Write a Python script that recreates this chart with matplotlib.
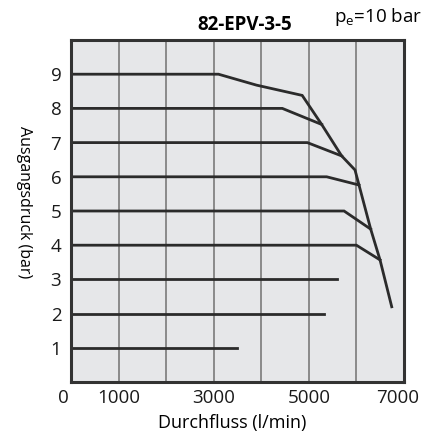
import numpy as np
import matplotlib.pyplot as plt
import matplotlib.transforms as mtransforms

plt.rcParams['font.family'] = ['Open Sans', 'DejaVu Sans']

# Kennlinien: Durchfluss (l/min) und Ausgangsdruck (bar)
flow_1 = [0, 3480]
p_1 = [1, 1]
flow_2 = [0, 5320]
p_2 = [2, 2]
flow_3 = [0, 5600]
p_3 = [3, 3]
flow_4 = [0, 6000, 6496]
p_4 = [4, 4, 3.57]
flow_5 = [0, 5740, 6300]
p_5 = [5, 5, 4.47]
flow_6 = [0, 5375, 6054]
p_6 = [6, 6, 5.76]
flow_7 = [0, 4968, 5690]
p_7 = [7, 7, 6.61]
flow_8 = [0, 4442, 5270]
p_8 = [8, 8, 7.53]
flow_9 = [0, 3100, 3900, 4860, 5270, 5690, 5970, 6054, 6300, 6496, 6742]
p_9 = [9, 9, 8.68, 8.38, 7.53, 6.61, 6.2, 5.76, 4.47, 3.57, 2.2]

curves = [(flow_1, p_1), (flow_2, p_2), (flow_3, p_3), (flow_4, p_4), (flow_5, p_5),
          (flow_6, p_6), (flow_7, p_7), (flow_8, p_8), (flow_9, p_9)]

xticks = [0, 1000, 3000, 5000, 7000]
yticks = [1, 2, 3, 4, 5, 6, 7, 8, 9]
xgrid = [1000, 2000, 3000, 4000, 5000, 6000]

fig = plt.figure(figsize=(4.33, 4.32), dpi=100)
ax = fig.add_axes([71/433, 1-382/432, (404-71)/433, (382-40)/432])
ax.set_facecolor('#e6e7e9')

for gx in xgrid:
    ax.axvline(gx, color='#8a8a8a', linewidth=1.4, zorder=1)

for fx, py in curves:
    ax.plot(fx, py, color='#2b2b2b', linewidth=2.0, solid_joinstyle='miter', zorder=3)

ax.set_xlim(0, 7000)
ax.set_ylim(0, 10)
ax.set_xticks(xticks)
ax.set_yticks(yticks)
ax.tick_params(length=0, labelsize=13.5, colors='#1a1a1a')
ax.tick_params(axis='x', pad=5)
ax.tick_params(axis='y', pad=7)
for s in ax.spines.values():
    s.set_linewidth(2.2)
    s.set_color('#333333')
    s.set_zorder(4)

# kleine Verschiebung der äußeren x-Beschriftungen wie im Original
fig.canvas.draw()
xl = ax.get_xticklabels()
xl[0].set_transform(xl[0].get_transform() + mtransforms.ScaledTranslation(-8/100, 0, fig.dpi_scale_trans))
xl[-1].set_transform(xl[-1].get_transform() + mtransforms.ScaledTranslation(-6/100, 0, fig.dpi_scale_trans))

ax.set_xlabel('Durchfluss (l/min)', fontsize=13, labelpad=3)
ax.set_ylabel('Ausgangsdruck (bar)', fontsize=11.5, rotation=270, labelpad=14)
ax.xaxis.set_label_coords(0.485, -0.095)
ax.yaxis.set_label_coords(-0.166, 0.525)

fig.text(245/433, 1-25/432, '82-EPV-3-5', fontsize=13.5, fontweight='bold', ha='center', va='center')
fig.text(378/433, 1-17/432, r'p$_\mathregular{e}$=10 bar', fontsize=13.5, ha='center', va='center')

plt.savefig('out.png', dpi=100)
